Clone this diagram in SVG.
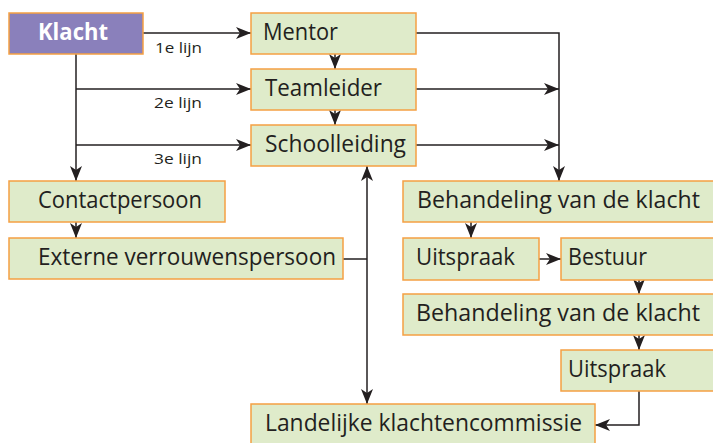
<svg xmlns="http://www.w3.org/2000/svg" width="713" height="443" viewBox="0 0 713 443">
<defs>
<marker id="ah" markerUnits="userSpaceOnUse" markerWidth="15" markerHeight="12" refX="15" refY="6" orient="auto-start-reverse" viewBox="0 0 15 12">
<path d="M0,0 L15,6 L0,12 L4,6 Z" fill="#231f20"/>
</marker>
<style>
.box{fill:#dfebca;stroke:#f5a043;stroke-width:1.5}
.kl{fill:#8a80bb;stroke:#f5a043;stroke-width:1.5}
.t{font-family:"Open Sans","Liberation Sans",sans-serif;font-size:23px;fill:#231f20}
.tw{font-family:"Open Sans","Liberation Sans",sans-serif;font-size:23px;font-weight:bold;fill:#ffffff}
.lbl{font-family:"Open Sans","Liberation Sans",sans-serif;font-size:15px;fill:#231f20}
.c{fill:none;stroke:#231f20;stroke-width:1.5}
</style>
</defs>
<rect width="713" height="443" fill="#ffffff"/>
<g id="connectors">
<path class="c" d="M143,33 H251" marker-end="url(#ah)"/>
<path class="c" d="M76,54 V181" marker-end="url(#ah)"/>
<path class="c" d="M76,89 H251" marker-end="url(#ah)"/>
<path class="c" d="M76,145 H251" marker-end="url(#ah)"/>
<path class="c" d="M335,54 V69" marker-end="url(#ah)"/>
<path class="c" d="M335,110 V125" marker-end="url(#ah)"/>
<path class="c" d="M416,33 H559 V181" marker-end="url(#ah)"/>
<path class="c" d="M416,89 H559" marker-end="url(#ah)"/>
<path class="c" d="M416,145 H559" marker-end="url(#ah)"/>
<path class="c" d="M76,222 V238" marker-end="url(#ah)"/>
<path class="c" d="M343,259 H367"/>
<path class="c" d="M367,166 V404" marker-start="url(#ah)" marker-end="url(#ah)"/>
<path class="c" d="M471,222 V238" marker-end="url(#ah)"/>
<path class="c" d="M539,259 H561" marker-end="url(#ah)"/>
<path class="c" d="M639,280 V294" marker-end="url(#ah)"/>
<path class="c" d="M639,335 V350" marker-end="url(#ah)"/>
<path class="c" d="M639,391 V425 H595" marker-end="url(#ah)"/>
<text class="lbl" x="155" y="53" textLength="47" lengthAdjust="spacingAndGlyphs">1e lijn</text>
<text class="lbl" x="154" y="108" textLength="48" lengthAdjust="spacingAndGlyphs">2e lijn</text>
<text class="lbl" x="154" y="164" textLength="48" lengthAdjust="spacingAndGlyphs">3e lijn</text>
</g>
<g id="klacht">
<rect class="kl" x="9" y="13" width="134" height="41"/>
<text class="tw" x="38" y="40" textLength="70" lengthAdjust="spacingAndGlyphs">Klacht</text>
</g>
<g id="mentor">
<rect class="box" x="251" y="13" width="165" height="41"/>
<text class="t" x="263" y="40" textLength="75" lengthAdjust="spacingAndGlyphs">Mentor</text>
</g>
<g id="teamleider">
<rect class="box" x="251" y="69" width="165" height="41"/>
<text class="t" x="265" y="96" textLength="117" lengthAdjust="spacingAndGlyphs">Teamleider</text>
</g>
<g id="schoolleiding">
<rect class="box" x="251" y="125" width="165" height="41"/>
<text class="t" x="265" y="152" textLength="141" lengthAdjust="spacingAndGlyphs">Schoolleiding</text>
</g>
<g id="contactpersoon">
<rect class="box" x="9" y="181" width="216" height="41"/>
<text class="t" x="38" y="208" textLength="164" lengthAdjust="spacingAndGlyphs">Contactpersoon</text>
</g>
<g id="externe">
<rect class="box" x="9" y="238" width="334" height="41"/>
<text class="t" x="38" y="265" textLength="298" lengthAdjust="spacingAndGlyphs">Externe verrouwenspersoon</text>
</g>
<g id="behandeling1">
<rect class="box" x="403" y="181" width="320" height="41"/>
<text class="t" x="417" y="208" textLength="283" lengthAdjust="spacingAndGlyphs">Behandeling van de klacht</text>
</g>
<g id="uitspraak1">
<rect class="box" x="403" y="238" width="136" height="42"/>
<text class="t" x="416" y="265" textLength="99" lengthAdjust="spacingAndGlyphs">Uitspraak</text>
</g>
<g id="bestuur">
<rect class="box" x="561" y="238" width="162" height="42"/>
<text class="t" x="568" y="265" textLength="79" lengthAdjust="spacingAndGlyphs">Bestuur</text>
</g>
<g id="behandeling2">
<rect class="box" x="403" y="294" width="320" height="41"/>
<text class="t" x="416" y="321" textLength="284" lengthAdjust="spacingAndGlyphs">Behandeling van de klacht</text>
</g>
<g id="uitspraak2">
<rect class="box" x="561" y="350" width="162" height="41"/>
<text class="t" x="568" y="377" textLength="98" lengthAdjust="spacingAndGlyphs">Uitspraak</text>
</g>
<g id="landelijke">
<rect class="box" x="251" y="404" width="344" height="42"/>
<text class="t" x="265" y="431" textLength="317" lengthAdjust="spacingAndGlyphs">Landelijke klachtencommissie</text>
</g>
</svg>
